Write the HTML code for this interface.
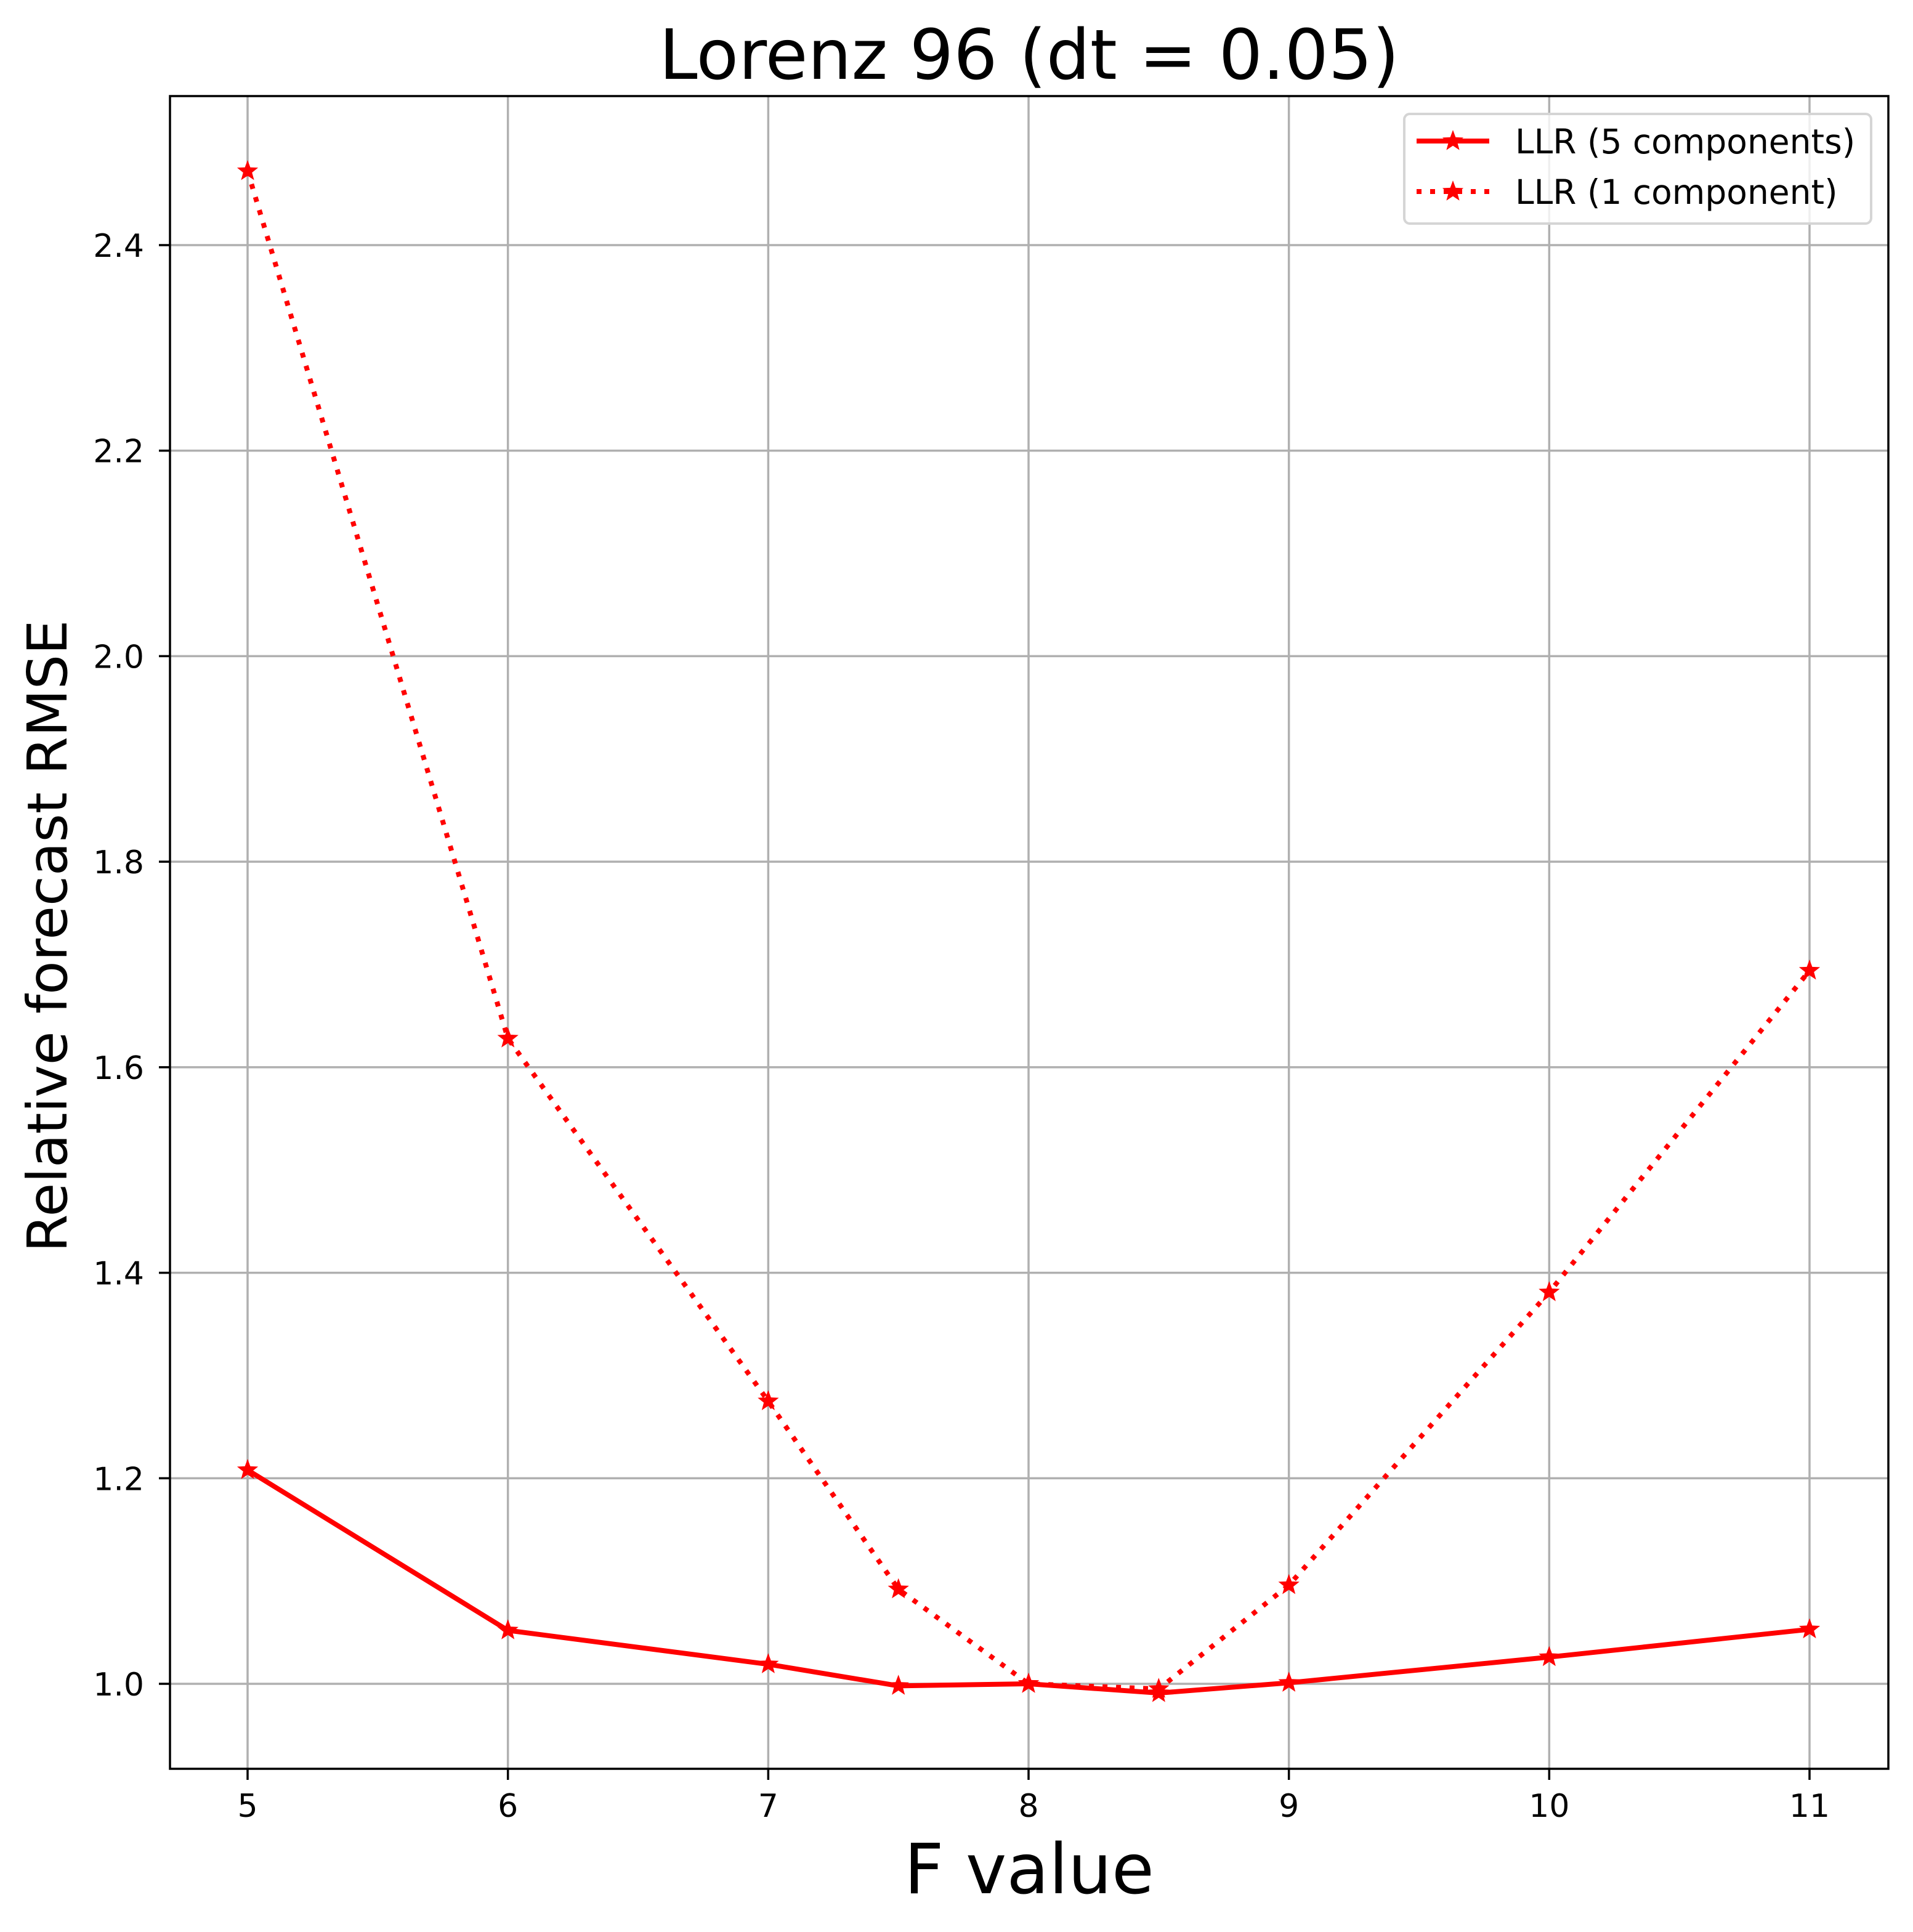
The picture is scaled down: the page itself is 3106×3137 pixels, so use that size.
<!DOCTYPE html>
<html><head><meta charset="utf-8"><style>
html,body{margin:0;padding:0;background:#fff;}
svg{display:block;font-family:"DejaVu Sans","Liberation Sans",sans-serif;}
</style></head><body>
<svg id="chart" width="3106" height="3137" viewBox="0 0 3106 3137" xmlns="http://www.w3.org/2000/svg">
<rect width="3106" height="3137" fill="#fff"/>
<g id="grid"></g>
<g id="series"></g>
<rect x="276" y="156" width="2790" height="2716" fill="none" stroke="#000" stroke-width="3.5"/>
<g id="ticks"></g>
<text x="1671" y="128" font-size="112" text-anchor="middle">Lorenz 96 (dt = 0.05)</text>
<text x="1671" y="3074" font-size="112" text-anchor="middle">F value</text>
<text transform="translate(108,1520) rotate(-90)" font-size="89" text-anchor="middle">Relative forecast RMSE</text>
<g>
<rect x="2280" y="185" width="758" height="178" rx="9" fill="#fff" fill-opacity="0.8" stroke="#d5d5d5" stroke-width="4"/>
<g id="legend-items"></g>
</g>
</svg>
<script>
const fValues=[5,6,7,7.5,8,8.5,9,10,11];
const llr5=[1.208,1.052,1.019,0.998,1.000,0.991,1.001,1.026,1.053];
const llr1=[2.472,1.628,1.275,1.092,1.000,0.995,1.096,1.381,1.694];
const xTicks=[5,6,7,8,9,10,11];
const yTicks=[1.0,1.2,1.4,1.6,1.8,2.0,2.2,2.4];
const NS="http://www.w3.org/2000/svg";
function xs(v){return 402+(v-5)*(2938-402)/6;}
function ys(v){return 2734-(v-1.0)*(2734-398)/1.4;}
function mk(t,a,p){const e=document.createElementNS(NS,t);for(const k in a)e.setAttribute(k,a[k]);p.appendChild(e);return e;}
function star(cx,cy,r){let pts=[];for(let i=0;i<10;i++){const rr=i%2?r*0.42:r;const a=-Math.PI/2+i*Math.PI/5;pts.push((cx+rr*Math.cos(a)).toFixed(1)+","+(cy+rr*Math.sin(a)).toFixed(1));}return pts.join(" ");}
const grid=document.getElementById('grid'),ticks=document.getElementById('ticks'),ser=document.getElementById('series');
xTicks.forEach(v=>{const x=xs(v);
const g=mk('line',{x1:x,x2:x,y1:156,y2:2872,stroke:'#b0b0b0','stroke-width':3.5},grid);


const t=mk('line',{x1:x,x2:x,y1:2872,y2:2890,stroke:'#000','stroke-width':3.5},ticks);


const l=mk('text',{x:x,y:2950,'font-size':52,'text-anchor':'middle'},ticks);l.textContent=v;

});
yTicks.forEach(v=>{const y=ys(v);
const g=mk('line',{x1:276,x2:3066,y1:y,y2:y,stroke:'#b0b0b0','stroke-width':3.5},grid);


const t=mk('line',{x1:258,x2:276,y1:y,y2:y,stroke:'#000','stroke-width':3.5},ticks);


const l=mk('text',{x:234,y:y+19,'font-size':52,'text-anchor':'end'},ticks);l.textContent=v.toFixed(1);

});
function drawSeries(vals,dash,name){
const pts=fValues.map((f,i)=>xs(f)+","+ys(vals[i])).join(" ");
const pl=mk('polyline',{points:pts,fill:'none',stroke:'#ff0000','stroke-width':8,'stroke-dasharray':dash},ser);


fValues.forEach((f,i)=>{const s=mk('polygon',{points:star(xs(f),ys(vals[i]),18),fill:'#ff0000'},ser);

});}
drawSeries(llr5,'none','llr-5-components');
drawSeries(llr1,'8,14','llr-1-component');
const li=document.getElementById('legend-items');
[['LLR (5 components)','none',229],['LLR (1 component)','8,14',311]].forEach(([lab,d,y])=>{
const ln=mk('line',{x1:2300,x2:2418,y1:y,y2:y,stroke:'#ff0000','stroke-width':8,'stroke-dasharray':d},li);


const s=mk('polygon',{points:star(2359,y,18),fill:'#ff0000'},li);


const t=mk('text',{x:2460,y:y+20,'font-size':55},li);t.textContent=lab;

});
</script>
</body></html>
